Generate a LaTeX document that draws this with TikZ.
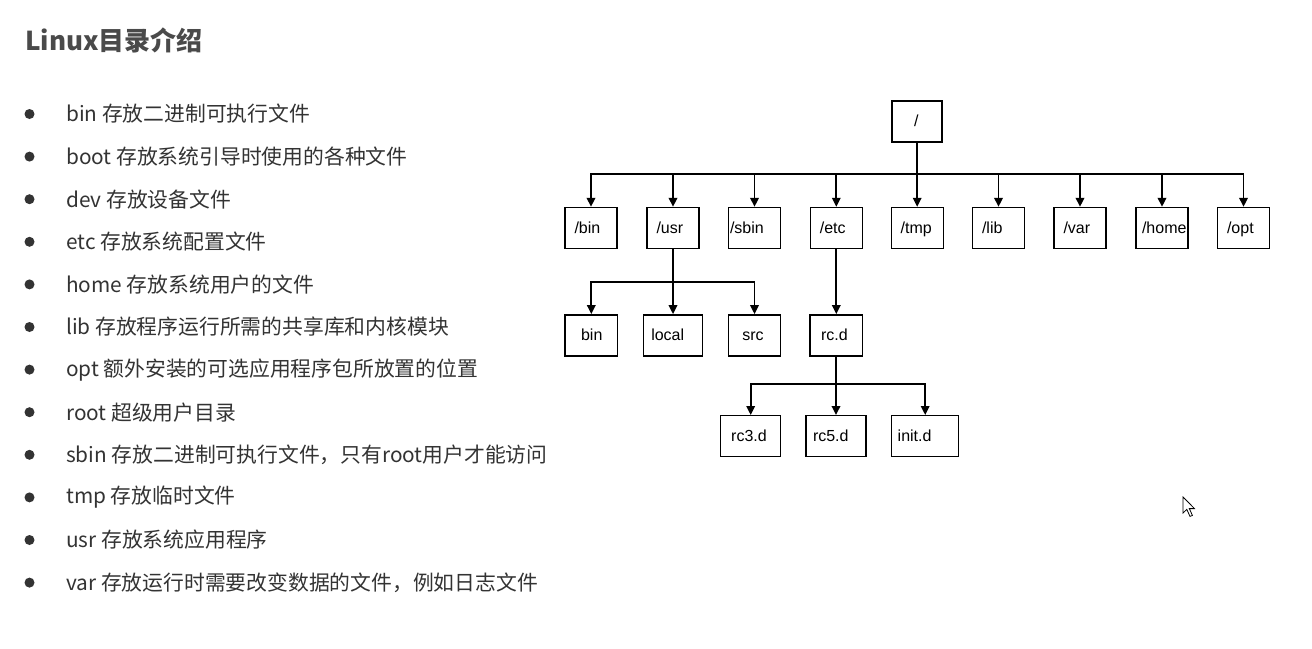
\documentclass[tikz,border=0pt]{standalone}
\usepackage{fontspec}
\setmainfont{Noto Sans CJK SC}
\newfontfamily\treefont{Liberation Sans}
\usetikzlibrary{arrows.meta}
\definecolor{txt}{HTML}{333333}
\definecolor{ttl}{HTML}{4A4A4A}
\begin{document}
\begin{tikzpicture}[x=1pt,y=-1pt,
  item/.style={anchor=west,inner sep=0pt,text=txt,font=\fontsize{20.8}{25}\selectfont},
  dot/.style={circle,fill=txt,minimum size=10pt,inner sep=0pt},
  box/.style={draw=black,line width=1.4pt,minimum height=41pt,inner sep=0pt,fill=white},
  lbl/.style={anchor=base west,inner sep=0pt,font=\treefont\fontsize{16}{18}\selectfont},
  conn/.style={draw=black,line width=1.8pt,-{Triangle[length=9pt,width=8.5pt]}},
  bus/.style={draw=black,line width=1.8pt}
]
\useasboundingbox[fill=white] (0,0) rectangle (1312,648);

% title
\node[anchor=base west,inner sep=0pt,text=ttl,font=\fontsize{26}{30}\selectfont\bfseries] (title) at (25,50) {Linux目录介绍};

% list
\foreach \i/\t in {0/{bin 存放二进制可执行文件},
                   1/{boot 存放系统引导时使用的各种文件},
                   2/{dev 存放设备文件},
                   3/{etc 存放系统配置文件},
                   4/{home 存放系统用户的文件},
                   5/{lib 存放程序运行所需的共享库和内核模块},
                   6/{opt 额外安装的可选应用程序包所放置的位置},
                   7/{root 超级用户目录},
                   8/{sbin 存放二进制可执行文件，只有root用户才能访问},
                   9/{tmp 存放临时文件},
                   10/{usr 存放系统应用程序},
                   11/{var 存放运行时需要改变数据的文件，例如日志文件}}{
  \node[dot] (d\i) at (29.5,114+42.6*\i) {};
  \node[item] (t\i) at (66,114+42.6*\i) {\t};
}

% tree boxes
\node[box,minimum width=50pt] (root) at (917,121.5) {};
\node[lbl] at ([xshift=-3pt,yshift=-5pt]root.center) {/};

\foreach \n/\x/\l/\o in {rbin/591/{/bin}/10, usr/673/{/usr}/10, sbin/754.5/{/sbin}/2,
                        etc/836.3/{/etc}/10, tmp/917.2/{/tmp}/10, lib/998.5/{/lib}/10,
                        var/1080/{/var}/10, home/1162/{/home}/6.5, opt/1243.5/{/opt}/10}{
  \node[box,minimum width=52pt] (\n) at (\x,228) {};
  \node[lbl] at ([xshift=\o pt,yshift=-5pt]\n.west) {\l};
}

\node[box,minimum width=52.5pt] (ubin) at (591.3,335.3) {};
\node[lbl] at ([xshift=16.5pt,yshift=-5pt]ubin.west) {bin};
\node[box,minimum width=59.5pt] (local) at (673,335.3) {};
\node[lbl] at ([xshift=8.5pt,yshift=-5pt]local.west) {local};
\node[box,minimum width=52.5pt] (src) at (754.5,335.3) {};
\node[lbl] at ([xshift=14.5pt,yshift=-5pt]src.west) {src};
\node[box,minimum width=52.5pt] (rcd) at (836.3,335.3) {};
\node[lbl] at ([xshift=11.5pt,yshift=-5pt]rcd.west) {rc.d};

\node[box,minimum width=60pt] (rc3) at (750.7,436.2) {};
\node[lbl] at ([xshift=11pt,yshift=-5pt]rc3.west) {rc3.d};
\node[box,minimum width=60pt] (rc5) at (836,436.2) {};
\node[lbl] at ([xshift=7.5pt,yshift=-5pt]rc5.west) {rc5.d};
\node[box,minimum width=67pt] (init) at (925.2,436.2) {};
\node[lbl] at ([xshift=6.5pt,yshift=-5pt]init.west) {init.d};

% connectors level 1
\coordinate (b1) at (917,174.3);
\draw[bus] (root.south) -- (b1);
\foreach \c in {rbin,usr,sbin,etc,tmp,lib,var,home,opt}{
  \draw[conn] (b1) -| (\c.north);
}
% level 2
\coordinate (b2) at (673,281.7);
\draw[bus] (usr.south) -- (b2);
\foreach \c in {ubin,local,src}{
  \draw[conn] (b2) -| (\c.north);
}
\draw[conn] (etc.south) -- (rcd.north);
% level 3
\coordinate (b3) at (836.3,384);
\draw[bus] (rcd.south) -- (b3);
\foreach \c in {rc3,rc5,init}{
  \draw[conn] (b3) -| (\c.north);
}

% mouse pointer
\draw[black,line width=0.8pt,fill=white,line join=miter]
  (1183,497) -- ++(0,16) -- ++(3.8,-3.6) -- ++(3.2,7) -- ++(2.4,-1) -- ++(-3.1,-6.8) -- ++(5.2,0) -- cycle;
\end{tikzpicture}
\end{document}
